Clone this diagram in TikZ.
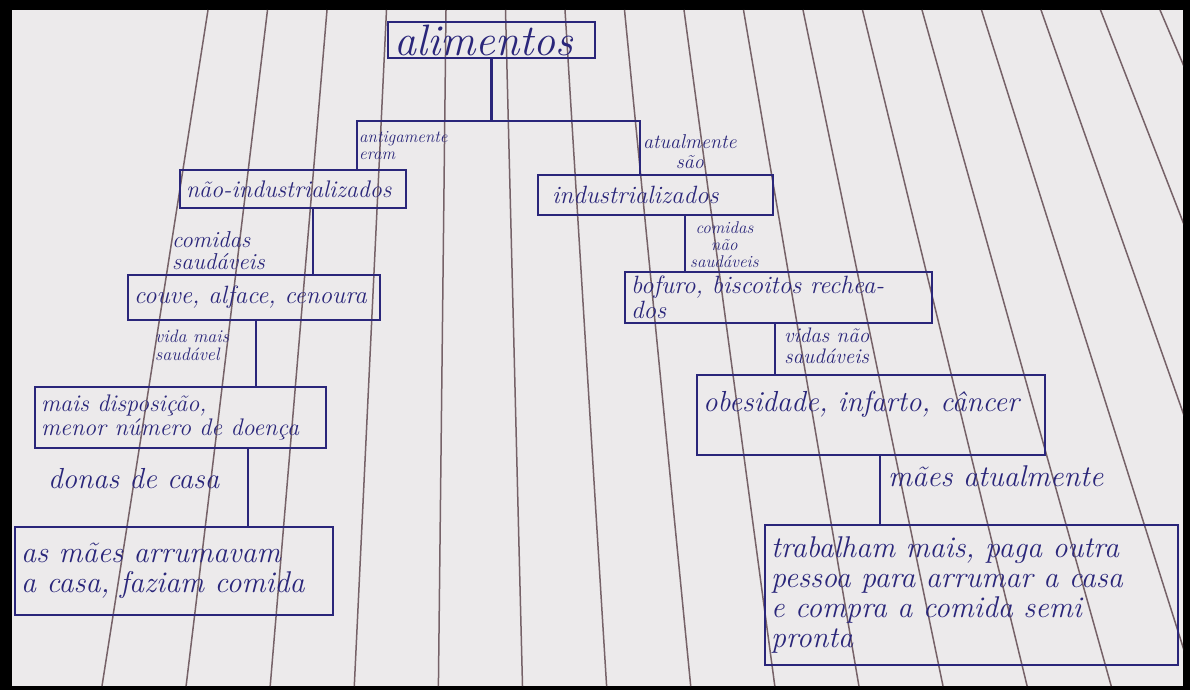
\documentclass[tikz,border=0pt]{standalone}
\usepackage{fontspec}
\definecolor{ink}{RGB}{42,38,122}
\definecolor{paper}{RGB}{236,234,235}
\definecolor{ruling}{RGB}{118,98,104}
\begin{document}
\begin{tikzpicture}[x = 1pt, y = -1pt,
                box/.style = {draw = ink, line width = 2.2pt, rectangle, inner xsep = 6pt, inner ysep = 2pt, align = flush left, text = ink},
                link/.style = {draw = ink, line width = 2.2pt},
                tag/.style = {text = ink, inner sep = 0pt, anchor = north west}]
                \useasboundingbox (0,0) rectangle (1190,690);
                \fill[black] (0,0) rectangle (1190,690);
                \fill[paper] (12,10) rectangle (1183,686);
                \begin{scope}
                    \clip (12,10) rectangle (1183,686);
                    \foreach \i in {0,...,16}
                        \draw[ruling, line width = 1.5pt] ({208+59.5*\i},10) -- ({102+84.1*\i},686);
                \end{scope}
                \node[box, minimum width = 207pt, minimum height = 36pt, text width = 195pt, font = {\itshape\fontsize{44}{44}\selectfont}] (alim) at (491.5,40) {alimentos};
                \node[box, minimum width = 226pt, minimum height = 38pt, text width = 214pt, font = {\itshape\fontsize{24}{24}\selectfont}] (naoind) at (293,189) {não-industrializados};
                \node[box, minimum width = 235pt, minimum height = 40pt, text width = 223pt, font = {\itshape\fontsize{25}{25}\selectfont}] (ind) at (655.5,195) {\hspace{8pt}industrializados};
                \node[box, minimum width = 252pt, minimum height = 45pt, text width = 240pt, font = {\itshape\fontsize{25}{25}\selectfont}] (couve) at (254,297.5) {couve, alface, cenoura};
                \node[box, minimum width = 307pt, minimum height = 51pt, text width = 295pt, font = {\itshape\fontsize{25}{25}\selectfont}] (bisc) at (778.5,297.5) {bofuro, biscoitos rechea-\\dos};
                \node[box, minimum width = 291pt, minimum height = 61pt, text width = 279pt, font = {\itshape\fontsize{24}{24}\selectfont}] (mais) at (180.5,417.5) {mais disposição,\\menor número de doença};
                \node[box, minimum width = 348pt, minimum height = 80pt, text width = 336pt, text depth = 28pt, font = {\itshape\fontsize{29}{29}\selectfont}] (obes) at (871,415) {obesidade, infarto, câncer};
                \node[box, minimum width = 318pt, minimum height = 88pt, text width = 306pt, font = {\itshape\fontsize{30}{30}\selectfont}] (maes) at (174,571) {as mães arrumavam\\a casa, faziam comida};
                \node[box, minimum width = 413pt, minimum height = 140pt, text width = 401pt, font = {\itshape\fontsize{30}{30}\selectfont}] (trab) at (971.5,595) {trabalham mais, paga outra\\pessoa para arrumar a casa\\e compra a comida semi\\pronta};
                \coordinate (barL) at (357,121);
                \coordinate (barR) at (640,121);
                \draw[link] (alim.south) -- (alim.south |- barL);
                \draw[link] (naoind.north -| barL) |- (barR) -- (ind.north -| barR);
                \draw[link] ([xshift = 20pt]naoind.south) -- ([xshift = 20pt]naoind.south |- couve.north);
                \draw[link] ([xshift = 29.5pt]ind.south) -- ([xshift = 29.5pt]ind.south |- bisc.north);
                \draw[link] ([xshift = 2pt]couve.south) -- ([xshift = 2pt]couve.south |- mais.north);
                \draw[link] ([xshift = -3.5pt]bisc.south) -- ([xshift = -3.5pt]bisc.south |- obes.north);
                \draw[link] ([xshift = 67.5pt]mais.south) -- ([xshift = 67.5pt]mais.south |- maes.north);
                \draw[link] ([xshift = 9pt]obes.south) -- ([xshift = 9pt]obes.south |- trab.north);
                \begin{scope}[every node/.append style = {align = left}]
                    \node[tag, font = {\itshape\fontsize{17}{17}\selectfont}] (antig) at (359,131) {antigamente\\eram};
                    \node[tag, font = {\itshape\fontsize{23}{22}\selectfont}] (saud) at (172,231) {comidas\\saudáveis};
                    \node[tag, font = {\itshape\fontsize{18}{18}\selectfont}] (vmais) at (155,330) {vida mais\\saudável};
                    \node[tag, font = {\itshape\fontsize{29}{29}\selectfont}] (donas) at (48,468) {donas de casa};
                \end{scope}
                \begin{scope}[every node/.append style = {align = center}]
                    \node[tag, font = {\itshape\fontsize{20}{20}\selectfont}] (atual) at (643,134) {atualmente\\são};
                    \node[tag, font = {\itshape\fontsize{17}{17}\selectfont}] (nsaud) at (690,221) {comidas\\não\\saudáveis};
                    \node[tag, font = {\itshape\fontsize{21}{21}\selectfont}] (vnao) at (784,328) {vidas não\\saudáveis};
                    \node[tag, font = {\itshape\fontsize{30}{30}\selectfont}] (maesat) at (888,465) {mães atualmente};
                \end{scope}
\end{tikzpicture}
\end{document}
